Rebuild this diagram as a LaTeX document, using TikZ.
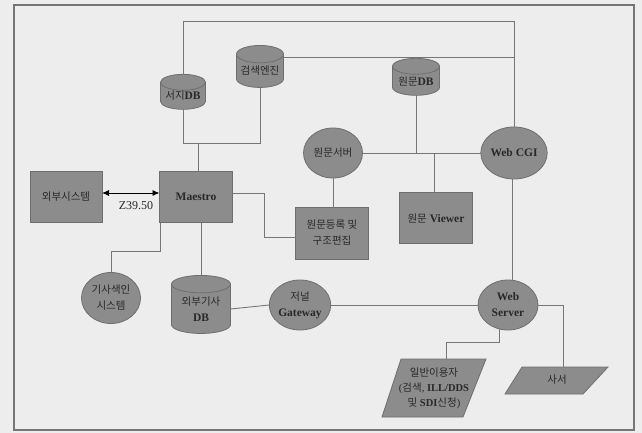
\documentclass[tikz,border=0pt]{standalone}
\usepackage{fontspec}
\setmainfont{Liberation Serif}
\newfontfamily\krfont{Noto Sans CJK KR}
\newcommand\kt[1]{{\mdseries\krfont\fontsize{10.5}{16}\selectfont #1}}
\newcommand\lt[1]{{\bfseries #1}}
\usetikzlibrary{shapes.geometric,arrows.meta}
\definecolor{bgc}{RGB}{236,237,236}
\definecolor{fillg}{RGB}{140,140,140}
\definecolor{edgeg}{RGB}{110,110,110}
\definecolor{lineg}{RGB}{118,118,118}
\definecolor{txt}{RGB}{40,40,40}
\begin{document}
\begin{tikzpicture}[x=1pt,y=-1pt,
  every node/.style={font=\fontsize{11.5}{16}\selectfont, text=txt, align=center, inner sep=0pt, outer sep=0pt},
  box/.style={draw=edgeg, fill=fillg, line width=0.8pt, rectangle},
  ell/.style={draw=edgeg, fill=fillg, line width=0.8pt, ellipse},
  cyl/.style={draw=edgeg, fill=fillg, line width=0.8pt, cylinder, shape border rotate=90, aspect=0.45},
  conn/.style={draw=lineg, line width=0.9pt},
  para/.style={draw=edgeg, fill=fillg, line width=0.8pt}
]
\useasboundingbox (0,0) rectangle (642,433);
\fill[bgc] (0,0) rectangle (642,433);
\draw[lineg, line width=1.2pt] (14,5) rectangle (634,430);

% nodes
\node[box, minimum width=72pt, minimum height=51pt] (ext) at (66,197) {\kt{외부시스템}};
\node[box, minimum width=73pt, minimum height=51pt] (ma) at (196,197) {\lt{Maestro}};
\node[box, minimum width=73pt, minimum height=52pt] (reg) at (332,233) {\kt{원문등록 및}\\\kt{구조편집}};
\node[box, minimum width=73pt, minimum height=51pt] (view) at (436,218) {\kt{원문} \lt{Viewer}};
\node[ell, minimum width=59pt, minimum height=50pt] (os) at (333,153) {\kt{원문서버}};
\node[ell, minimum width=59pt, minimum height=52pt] (cgi) at (514,153) {\lt{Web CGI}};
\node[ell, minimum width=60pt, minimum height=50pt] (wsv) at (508,305) {\lt{Web}\\\lt{Server}};
\node[ell, minimum width=60pt, minimum height=50pt] (jg) at (300,305) {\kt{저널}\\\lt{Gateway}};
\node[ell, minimum width=59pt, minimum height=51pt] (gs) at (111,298) {\kt{기사색인}\\\kt{시스템}};
\node[cyl, minimum width=45pt, minimum height=35pt] (sj) at (183,96) {\kt{서지}\lt{DB}};
\node[cyl, minimum width=47pt, minimum height=42pt] (se) at (260,71) {\kt{검색엔진}};
\node[cyl, minimum width=47pt, minimum height=37pt] (odb) at (416,81) {\kt{원문}\lt{DB}};
\node[cyl, minimum width=59pt, minimum height=58pt] (kdb) at (201,309) {\kt{외부기사}\\\lt{DB}};

% parallelograms
\draw[para] (401,359) -- (486,359) -- (463,417) -- (382,417) -- cycle;
\node[font=\fontsize{10.5}{15}\selectfont] (user) at (434,388) {\kt{일반이용자}\\(\kt{검색}, \lt{ILL/DDS}\\\kt{및} \lt{SDI}\kt{신청})};
\coordinate (usertop) at (446,359);
\draw[para] (522,367) -- (608,367) -- (583,394) -- (505,394) -- cycle;
\node (lib) at (557,380) {\kt{사서}};
\coordinate (libtop) at (563,367);

% connectors
\draw[conn] (sj.top) -- (sj.top |- 0,21) -| (cgi.north);
\draw[conn] (se.east |- 0,57) -- (cgi.north |- 0,57);
\draw[conn] (sj.bottom) -- (sj.bottom |- 0,143) -| (se.bottom);
\draw[conn] (ma.north -| 198,0) -- (198,143);
\draw[conn, {Latex[length=7pt,width=6pt]}-{Latex[length=7pt,width=6pt]}, draw=black] (ext.east |- 0,193) -- (ma.west |- 0,193);
\node[font=\fontsize{12}{14}\selectfont] (z) at (136,206) {Z39.50};
\draw[conn] (ma.east |- 0,193) -- (264,193) |- (reg.west |- 0,237);
\draw[conn] (os.south) -- (reg.north -| os.south);
\draw[conn] (os.east) -- (cgi.west);
\draw[conn] (odb.bottom) -- (odb.bottom |- os.east);
\draw[conn] (view.north -| 434,0) -- (434,153);
\draw[conn] (cgi.south -| 512,0) -- (512,280);
\draw[conn] (wsv.east) -| (libtop);
\draw[conn] (wsv.-110) -- ++(0,14) -| (usertop);
\draw[conn] (gs.north) -- (gs.north |- 0,251) -| ([xshift=1pt]ma.south west);
\draw[conn] (kdb.top |- ma.south) -- (kdb.top);
\draw[conn] (kdb.east) -- (jg.west);
\draw[conn] (jg.east) -- (wsv.west);
\end{tikzpicture}
\end{document}
